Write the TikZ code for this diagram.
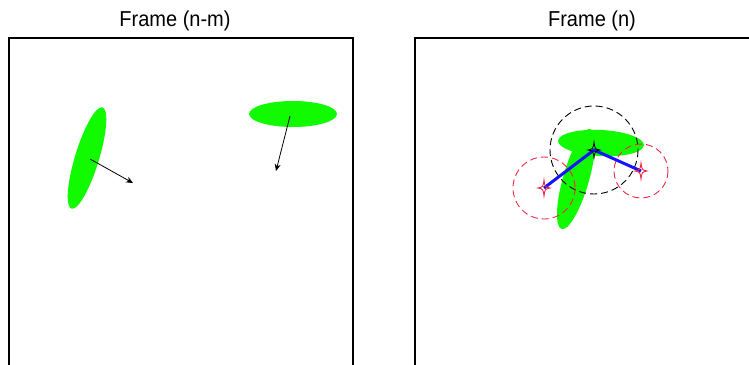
\documentclass[tikz,border=0pt]{standalone}
\usepackage{fontspec}
\setmainfont{Liberation Sans}
\usetikzlibrary{arrows.meta}

\tikzset{
  sparkle/.pic={
    \draw[pic actions] (0,-8) .. controls (1,-1) .. (6,0) .. controls (1,1) .. (0,8)
      .. controls (-1,1) .. (-6,0) .. controls (-1,-1) .. cycle;
  }
}

\begin{document}
\begin{tikzpicture}[
  x=1pt, y=-1pt,
  title/.style={font=\fontsize{20}{24}\selectfont, anchor=base, inner sep=0pt},
  frame/.style={draw, line width=1.3pt},
  blob/.style={fill={rgb,255:red,17;green,250;blue,0}},
  motion/.style={draw, ->, >={Stealth[length=7pt, width=6pt]}, line width=0.8pt},
  search/.style={draw, dashed, dash pattern=on 7pt off 4pt, line width=0.9pt},
  match/.style={draw, line width=3pt, color={rgb,255:red,20;green,20;blue,255}},
  hit/.style={draw={rgb,255:red,240;green,40;blue,70}, line width=0.9pt}
]
  \clip (0,0) rectangle (749,364);

  % titles and frames
  \node[title] (tprev) at (175,27) {\scalebox{1}[1.08]{Frame (n-m)}};
  \node[title] (tcur)  at (592,26) {\scalebox{1}[1.08]{Frame (n)}};
  \draw[frame] (9,38) rectangle (353,380);
  \draw[frame] (415,38) rectangle (770,380);

  % frame n-m
  \coordinate (e1) at (87,158);
  \coordinate (e2) at (293,114);
  \fill[blob, rotate around={73:(e1)}] (e1) ellipse [x radius=53, y radius=12];
  \fill[blob] (e2) ellipse [x radius=44, y radius=13];
  \coordinate (a1) at (90,159);
  \coordinate (b1) at (133,183);
  \coordinate (a2) at (290,116);
  \coordinate (b2) at (276,171);
  \draw[motion] (a1) -- (b1);
  \draw[motion] (a2) -- (b2);

  % frame n
  \coordinate (e3) at (601,143);
  \coordinate (e4) at (576,179);
  \fill[blob, rotate around={-3:(e3)}] (e3) ellipse [x radius=43, y radius=13];
  \fill[blob, rotate around={74:(e4)}] (e4) ellipse [x radius=52, y radius=13];

  \coordinate (c0) at (594,150);
  \coordinate (cl) at (544,188);
  \coordinate (cr) at (641,171);
  \draw[search, black] (c0) circle [radius=44];
  \draw[search, hit] (cl) circle [radius=31];
  \draw[search, hit] (cr) circle [radius=27];

  \draw[match] (cl) -- (c0) -- (cr);

  \pic[draw=black, line width=0.8pt] at (c0) {sparkle};
  \pic[hit] at (cl) {sparkle};
  \pic[hit] at (cr) {sparkle};
\end{tikzpicture}
\end{document}
